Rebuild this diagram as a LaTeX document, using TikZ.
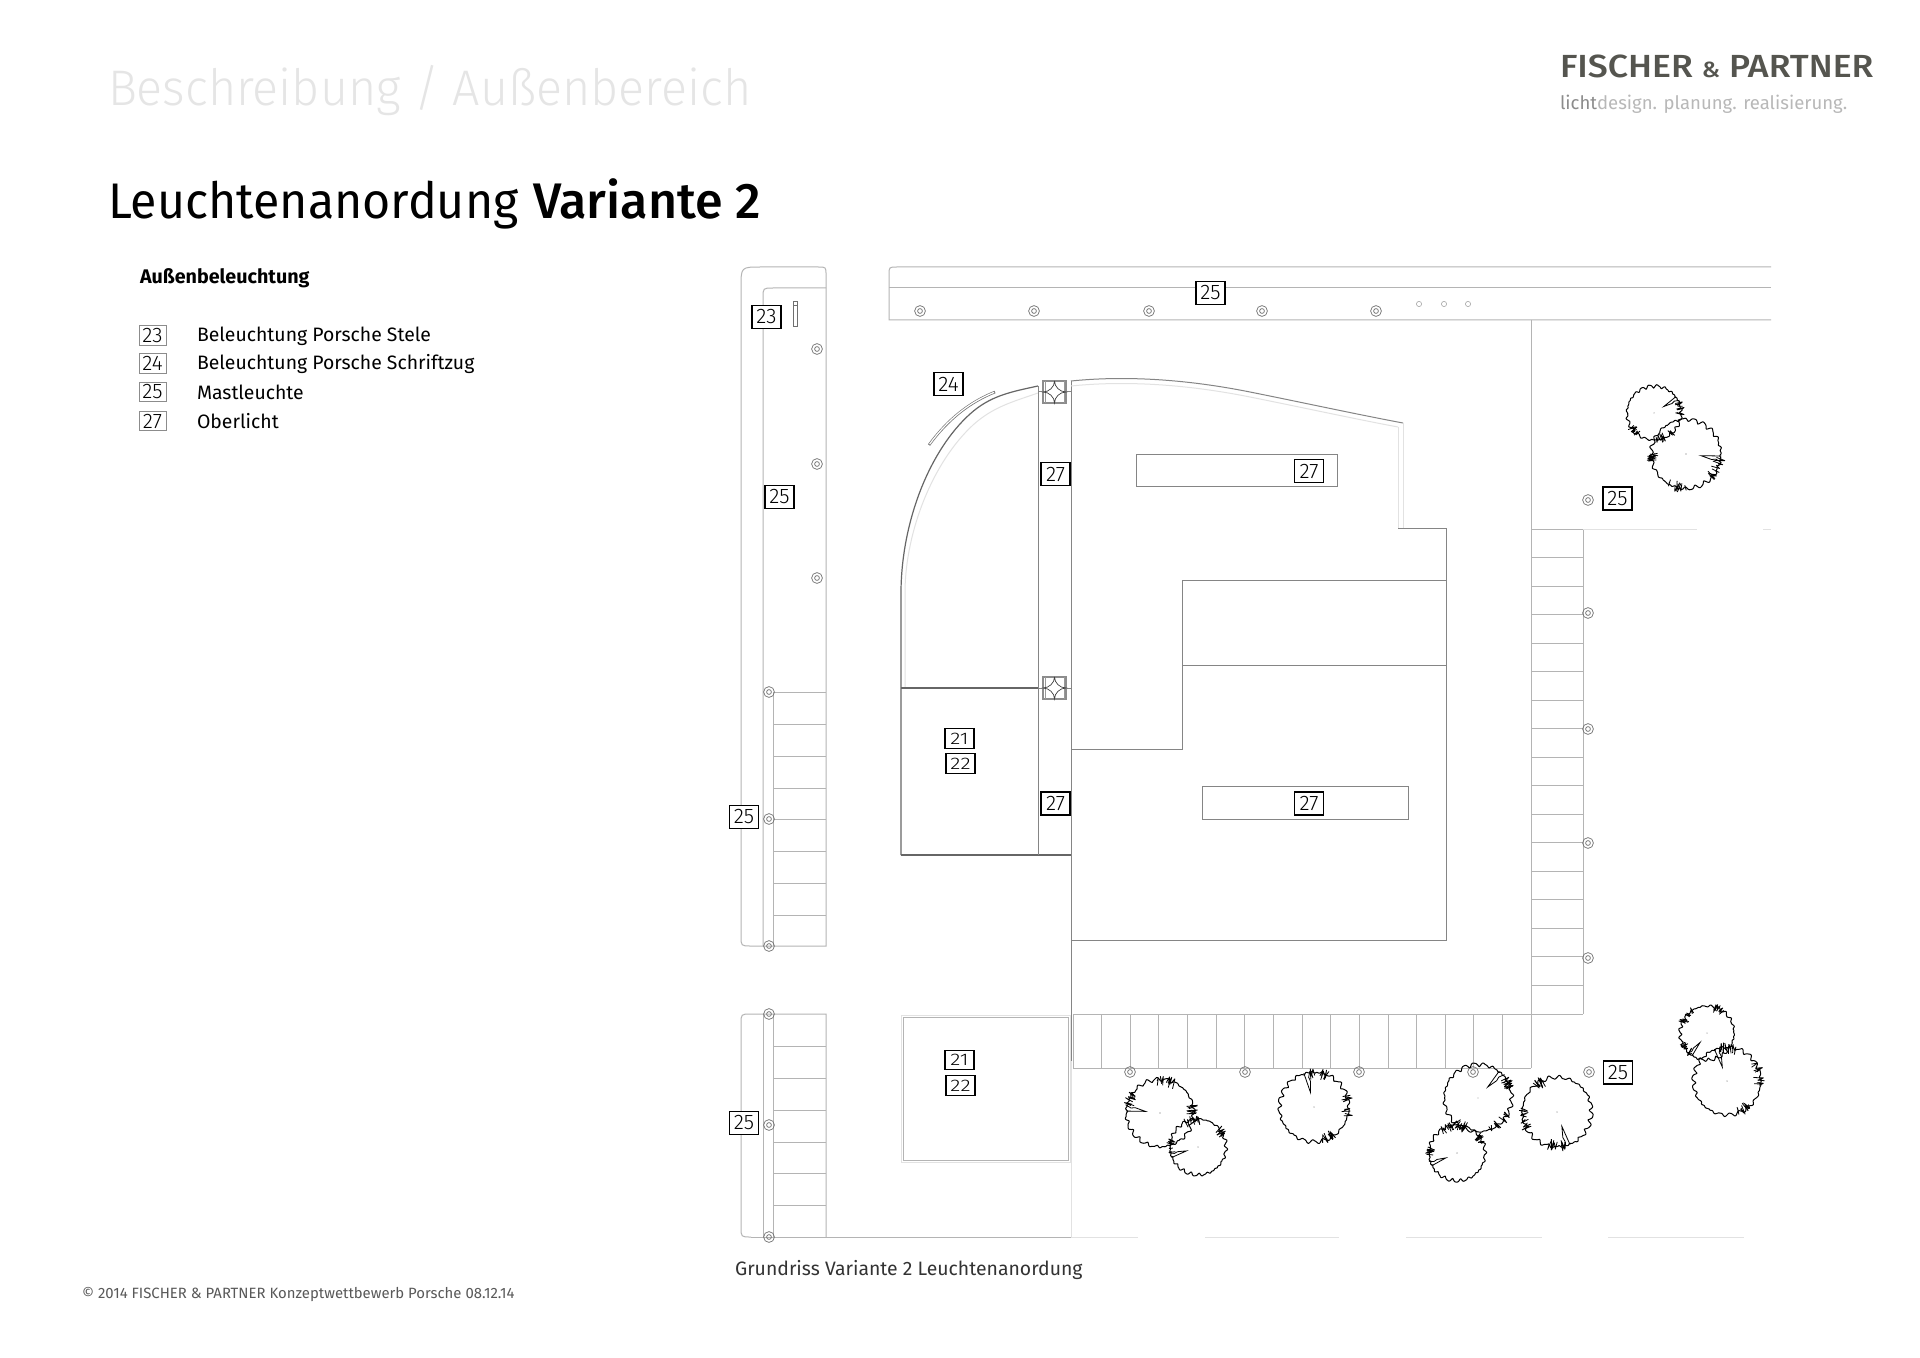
\documentclass[tikz,border=0pt]{standalone}
\usepackage{fontspec}
\setmainfont{Fira Sans}
\IfFontExistsTF{Fira Sans Light}{\newfontfamily\lightf{Fira Sans Light}}{\newfontfamily\lightf{Fira Sans}}
\IfFontExistsTF{Fira Sans Medium}{\newfontfamily\medf{Fira Sans Medium}}{\newfontfamily\medf{Fira Sans}}
\usetikzlibrary{calc}
\definecolor{roadc}{HTML}{B4B4B4}
\definecolor{wallc}{HTML}{858585}
\definecolor{faintc}{HTML}{E2E2E2}
\definecolor{lampc}{HTML}{707070}
\tikzset{
  road/.style={draw=roadc,line width=0.5pt},
  wall/.style={draw=wallc,line width=0.5pt},
  darkwall/.style={draw=black!60,line width=0.6pt},
  faint/.style={draw=faintc,line width=0.5pt},
  tag/.style={draw=black,line width=0.65pt,fill=white,minimum width=14.5pt,minimum height=11.6pt,inner sep=0pt,font=\lightf\fontsize{10.5}{10.5}\selectfont},
  flattag/.style={tag,minimum height=9.8pt},
  keytag/.style={draw=black!45,line width=0.4pt,fill=white,minimum width=13.5pt,minimum height=9.6pt,inner sep=0pt,font=\lightf\fontsize{10.5}{10.5}\selectfont},
  txt/.style={anchor=base west,inner sep=0pt,outer sep=0pt},
}
\newcommand{\lampat}[2]{\draw[lampc,line width=0.35pt] (#1,#2) circle[radius=2.7pt] (#1,#2) circle[radius=1.2pt];}
\newcommand{\smalllamp}[2]{\draw[black!35,line width=0.3pt] (#1,#2) circle[radius=1.3pt];}
\newcommand{\flattxt}[1]{\scalebox{1}[0.8]{#1}}
\newcommand{\sqlight}[2]{%
  \begin{scope}[shift={(#1,#2)}]
  \draw[black!45,line width=0.7pt] (0,0) rectangle (23,22);
  \draw[black!40,line width=0.3pt] (2,0) -- (2,22) (21,0) -- (21,22);
  \draw[black!75,line width=0.35pt] (11.5,0) .. controls (11.5,6) and (17,11) .. (23,11) .. controls (17,11) and (11.5,16) .. (11.5,22) .. controls (11.5,16) and (6,11) .. (0,11) .. controls (6,11) and (11.5,6) .. (11.5,0);
  \end{scope}}
% tree symbol: x y r rotation seed
\newcommand{\treesym}[5]{%
  \begin{scope}[shift={(#1,#2)},rotate=#4]
  \pgfmathsetseed{#5}
  \draw[black,line width=0.5pt,line join=round] plot[samples=240,domain=0:360,variable=\a]
    ({#3*(0.92+0.07*abs(sin(10*\a+#5))+0.025*sin(23*\a+7*#5)+0.012*sin(41*\a))*cos(\a)},{#3*(0.92+0.07*abs(sin(10*\a+#5))+0.025*sin(23*\a+7*#5)+0.012*sin(41*\a))*sin(\a)});
  \fill[black!60] (0,0) circle[radius=0.3pt];
  % long inward stroke
  \draw[black,line width=0.4pt] ({0.98*#3},{-0.03*#3}) -- ({0.42*#3},{0.01*#3}) -- ({0.72*#3},{0.09*#3}) -- ({0.84*#3},{0.07*#3}) -- ({1.0*#3},{0.15*#3});
  % spiky clumps: short zigzags across the rim
  \foreach \c/\w in {22/30,98/38,170/18}{
    \foreach \k in {1,...,7}{
      \pgfmathsetmacro{\anga}{\c+\w*(rnd-0.5)}
      \pgfmathsetmacro{\angb}{\anga+(rnd-0.5)*9}
      \pgfmathsetmacro{\angc}{\angb+(rnd-0.5)*9}
      \pgfmathsetmacro{\rin}{#3*(0.76+0.12*rnd)}
      \pgfmathsetmacro{\rout}{#3*(1.0+0.10*rnd)}
      \pgfmathsetmacro{\rend}{#3*(0.84+0.1*rnd)}
      \draw[black,line width=0.4pt,line join=bevel] ({\rin*cos(\anga)},{\rin*sin(\anga)}) -- ({\rout*cos(\angb)},{\rout*sin(\angb)}) -- ({\rend*cos(\angc)},{\rend*sin(\angc)});
    }
  }
  \end{scope}}
\begin{document}
\begin{tikzpicture}[x=0.5pt,y=-0.5pt]
\useasboundingbox (0,0) rectangle (1920,1358);
\fill[white] (0,0) rectangle (1920,1358);

% ---------- headings
\node[txt,text=black!10] (head) at (108,106) {\scalebox{0.968}[1]{\lightf\fontsize{25}{25}\selectfont Beschreibung / Außenbereich}};
\node[txt,text=black] (title) at (108,218.5) {\scalebox{0.966}[1]{\fontsize{25}{25}\selectfont Leuchtenanordung}};
\node[txt,text=black] (titleb) at (533,218.5) {\scalebox{1.005}[1]{\medf\fontsize{25}{25}\selectfont Variante 2}};
\node[txt,text=black] (keyhead) at (140,283.5) {\fontsize{9.85}{9.85}\selectfont\bfseries Außenbeleuchtung};
\node[txt,text={rgb,255:red,85;green,85;blue,79}] (logo) at (1560,78) {\scalebox{1.115}[1]{\medf\fontsize{16}{16}\selectfont FISCHER {\fontsize{11}{11}\selectfont\&} PARTNER}};
\node[txt,text=black!45] (logob) at (1560,110) {\fontsize{9.27}{9.27}\selectfont licht\textcolor{black!28}{design. planung. realisierung.}};
\node[txt,text=black!80] (cap) at (735,1275) {\fontsize{9.7}{9.7}\selectfont Grundriss Variante 2 Leuchtenanordung};
\node[txt,text=black!65] (copy) at (82,1298) {\fontsize{7.45}{7.45}\selectfont © 2014 FISCHER \& PARTNER Konzeptwettbewerb Porsche 08.12.14};

% ---------- legend
\node[keytag] (k23) at (152.5,335.5) {23};
\node[keytag] (k24) at (152.5,363.5) {24};
\node[keytag] (k25) at (152.5,391.5) {25};
\node[keytag] (k27) at (152.5,421) {27};
\node[txt] (t23) at (197,342) {\fontsize{9.7}{9.7}\selectfont Beleuchtung Porsche Stele};
\node[txt] (t24) at (197,370) {\fontsize{9.7}{9.7}\selectfont Beleuchtung Porsche Schriftzug};
\node[txt] (t25) at (197,399) {\fontsize{9.7}{9.7}\selectfont Mastleuchte};
\node[txt] (t27) at (197,428) {\fontsize{9.7}{9.7}\selectfont Oberlicht};

% ---------- left road, upper
\draw[road] (751,946) .. controls (741,946) .. (741,936) -- (741,287) .. controls (741,267) .. (761,267) -- (818,267) .. controls (826,267) .. (826,275) -- (826,946) -- (751,946);
\draw[road] (763,946) -- (763,298) .. controls (763,288) .. (773,288) -- (826,288);
\draw[road] (773,692) -- (773,946);
\foreach \yy in {692,724,756,788,819,851,883,915}{\draw[road] (773,\yy) -- (826,\yy);}
% stele
\draw[lampc,line width=0.4pt] (793,301) rectangle (797,326);
\draw[lampc,line width=0.3pt] (793,305) -- (797,305);
% ---------- left road, lower
\draw[road] (751,1237) .. controls (741,1237) .. (741,1227) -- (741,1024) .. controls (741,1014) .. (751,1014) -- (826,1014) -- (826,1237);
\draw[road] (763,1014) -- (763,1237);
\draw[road] (773,1014) -- (773,1237);
\foreach \yy in {1046,1078,1110,1142,1173,1205}{\draw[road] (773,\yy) -- (826,\yy);}
\draw[road] (751,1237) -- (1071,1237);
% ---------- top road
\draw[road] (1771,267) -- (897,267) .. controls (889,267) .. (889,275) -- (889,320) -- (1771,320);
\draw[road] (889,288) -- (1771,288);
% ---------- site edges
\draw[road] (1531,320) -- (1531,1068);
\draw[road] (1583,529) -- (1583,1014);
\draw[road] (1073,1014) -- (1583,1014);
\draw[road] (1073,1014) -- (1073,1068) -- (1531,1068);
\foreach \i in {1,...,15}{\draw[road] ({1073+28.64*\i},1014) -- ({1073+28.64*\i},1068);}
\foreach \i in {0,...,16}{\draw[road] (1531,{529+28.53*\i}) -- (1583,{529+28.53*\i});}
\draw[faint] (1583,529) -- (1697,529) (1763,529) -- (1771,529);
\draw[faint] (1071,1237) -- (1138,1237) (1205,1237) -- (1339,1237) (1406,1237) -- (1542,1237) (1608,1237) -- (1744,1237);
\draw[faint] (1071,1061) -- (1071,1237);

% ---------- showroom
\draw[darkwall] (901,855) -- (901,590) .. controls (902,520) and (930,450) .. (970,414) .. controls (990,396) and (1010,392) .. (1038,386);
\draw[faint] (905,688) -- (905,590) .. controls (906,530) and (933,462) .. (973,425) .. controls (993,407) and (1012,402) .. (1038,393);
\draw[darkwall] (901,688) -- (1038,688);
\draw[darkwall] (901,855) -- (1071,855);
\draw[wall] (1038,386) -- (1038,855);
\draw[wall] (1071,381) -- (1071,1061);
\draw[black!55,line width=1.3pt,line cap=butt] (929,445) .. controls (948,419) and (970,402) .. (995,392);
\draw[white,line width=0.6pt,shorten >=0.5pt,shorten <=0.5pt] (929,445) .. controls (948,419) and (970,402) .. (995,392);
\draw[wall] (1071,381) .. controls (1120,376) and (1180,378) .. (1250,392) .. controls (1300,402) and (1360,415) .. (1403,423);
\draw[faint] (1071,386) .. controls (1120,381) and (1180,383) .. (1250,397) .. controls (1300,407) and (1360,420) .. (1398,427);
\draw[faint] (1403,423) -- (1403,528);
\draw[faint] (1398,427) -- (1398,528);
\draw[wall] (1398,528) -- (1446,528) -- (1446,940) -- (1071,940);
\draw[wall] (1182,580) -- (1446,580);
\draw[wall] (1182,665) -- (1446,665);
\draw[wall] (1182,580) -- (1182,749) -- (1071,749);
\draw[wall] (1136,454) rectangle (1337,486);
\draw[wall] (1202,786) rectangle (1408,819);
\draw[road] (903,1017) rectangle (1068,1160);
\draw[faint] (901,1015) rectangle (1070,1162);
% square lights
\draw[wall] (1038,391) -- (1043,391) (1066,391) -- (1071,391);
\draw[wall] (1038,688) -- (1043,688) (1066,688) -- (1071,688);
\sqlight{1043}{381}
\sqlight{1043}{677}

% ---------- lamps
\foreach \xx/\yy in {817/349,817/464,817/578,769/692,769/819,769/946,769/1014,769/1125,769/1237,
  920/311,1034/311,1149/311,1262/311,1376/311,1588/500,1588/613,1588/729,1588/843,1588/958,
  1130/1072,1245/1072,1359/1072,1473/1072,1589/1072}{\lampat{\xx}{\yy}}
\foreach \xx in {1419,1444,1468}{\smalllamp{\xx}{304}}

% ---------- trees
\treesym{1160}{1113}{35}{175}{11}
\treesym{1198}{1147}{29}{200}{12}
\treesym{1314}{1107}{36}{105}{13}
\treesym{1478}{1098}{35}{50}{14}
\treesym{1457}{1153}{29}{205}{15}
\treesym{1557}{1112}{36}{290}{16}
\treesym{1707}{1033}{28}{235}{17}
\treesym{1727}{1081}{35}{110}{18}
\treesym{1654}{413}{28}{35}{19}
\treesym{1686}{454}{36}{355}{20}

% ---------- tags
\node[tag] (n23) at (766.5,317) {23};
\node[tag] (n25a) at (779.5,497) {25};
\node[tag] (n24) at (948.5,384) {24};
\node[tag] (n27a) at (1055.5,474) {27};
\node[tag] (n25b) at (1210.5,293) {25};
\node[tag] (n27b) at (1309,471) {27};
\node[tag] (n27c) at (1309,803.5) {27};
\node[tag] (n27d) at (1055.5,803.5) {27};
\node[tag] (n25c) at (744,817) {25};
\node[tag] (n25d) at (744,1123) {25};
\node[tag] (n25e) at (1617.5,498.5) {25};
\node[tag] (n25f) at (1618,1072.5) {25};
\node[flattag] (n21a) at (959.5,738.5) {\flattxt{21}};
\node[flattag] (n22a) at (960.5,763.5) {\flattxt{22}};
\node[flattag] (n21b) at (959.5,1060) {\flattxt{21}};
\node[flattag] (n22b) at (960.5,1085.5) {\flattxt{22}};
\end{tikzpicture}
\end{document}
